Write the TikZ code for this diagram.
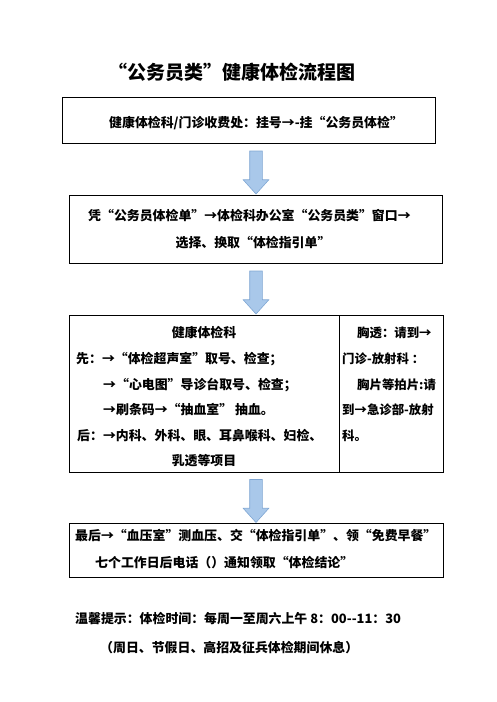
\documentclass[tikz,border=0pt]{standalone}
\usepackage{fontspec}
\setmainfont{Noto Sans CJK SC}
\usetikzlibrary{shapes.arrows,calc}
\definecolor{Ink}{HTML}{000000}
\definecolor{ArrowFill}{HTML}{A9C8EA}
\definecolor{ArrowLine}{HTML}{7FA6D3}

\begin{document}
\begin{tikzpicture}[
  x=1pt, y=-1pt,
  box/.style={draw=Ink, line width=0.9pt, inner sep=0pt},
  line/.style={anchor=base west, inner sep=0pt, font=\bfseries\fontsize{12.9}{14}\selectfont, text=Ink},
  cline/.style={line, anchor=base},
  sline/.style={line, font=\bfseries\fontsize{12.4}{14}\selectfont},
  flow/.style={single arrow, rotate=-90, draw=ArrowLine, fill=ArrowFill, line width=0.6pt,
    inner sep=6pt, minimum height=43pt, single arrow head extend=6.5pt, single arrow tip angle=84}
]
\useasboundingbox (0,0) rectangle (496,702);
% title
\node[anchor=base, inner sep=0pt, font=\bfseries\fontsize{19}{22}\selectfont] (title) at (232,79) {“公务员类”健康体检流程图};
% boxes
\node[box, minimum width=373pt, minimum height=46pt] (reg) at (248.5,120) {};
\node[box, minimum width=373pt, minimum height=68pt] (form) at (255.5,229) {};
\node[box, minimum width=270pt, minimum height=157pt] (exam) at (204,393.5) {};
\node[box, minimum width=104pt, minimum height=157pt, anchor=west] (xray) at (exam.east) {};
\node[box, minimum width=374pt, minimum height=54pt] (last) at (256,550) {};
% box texts
\node[line] (reg1) at (109,127) {健康体检科/门诊收费处：挂号→-挂“公务员体检”};
\node[line] (form1) at (88,220) {凭“公务员体检单”→体检科办公室“公务员类”窗口→};
\node[cline] (form2) at (253,247) {选择、换取“体检指引单”};
\node[cline] (exam1) at (204,337) {健康体检科};
\node[line] (exam2) at (76,363) {先：→“体检超声室”取号、检查；};
\node[line] (exam3) at (103,389) {→“心电图”导诊台取号、检查；};
\node[line] (exam4) at (103,414) {→刷条码→“抽血室” 抽血。};
\node[line] (exam5) at (77,440) {后：→内科、外科、眼、耳鼻喉科、妇检、};
\node[cline] (exam6) at (204,465) {乳透等项目};
\node[sline] (xray1) at (357,337) {胸透：请到→};
\node[sline] (xray2) at (342,363) {门诊-放射科 ：};
\node[sline] (xray3) at (357,389) {胸片等拍片:请};
\node[sline] (xray4) at (342,414) {到→急诊部-放射};
\node[sline] (xray5) at (342,440) {科。};
\node[line] (last1) at (75,540) {最后→“血压室”测血压、交“体检指引单”、领“免费早餐”};
\node[line] (last2) at (95,567) {七个工作日后电话（）通知领取“体检结论”};
% notes
\node[line] (note1) at (75,623) {温馨提示：体检时间：每周一至周六上午 8：00-{}-11：30};
\node[line] (note2) at (100,652) {（周日、节假日、高招及征兵体检期间休息）};
% arrows
\coordinate (axis) at (256,0);
\node[flow] (ar1) at (axis |- {$(reg.south)!0.5!(form.north)$}) {};
\node[flow] (ar2) at (axis |- {$(form.south)!0.5!(exam.north)$}) {};
\node[flow] (ar3) at (axis |- {$(exam.south)!0.5!(last.north)$}) {};
\end{tikzpicture}
\end{document}
